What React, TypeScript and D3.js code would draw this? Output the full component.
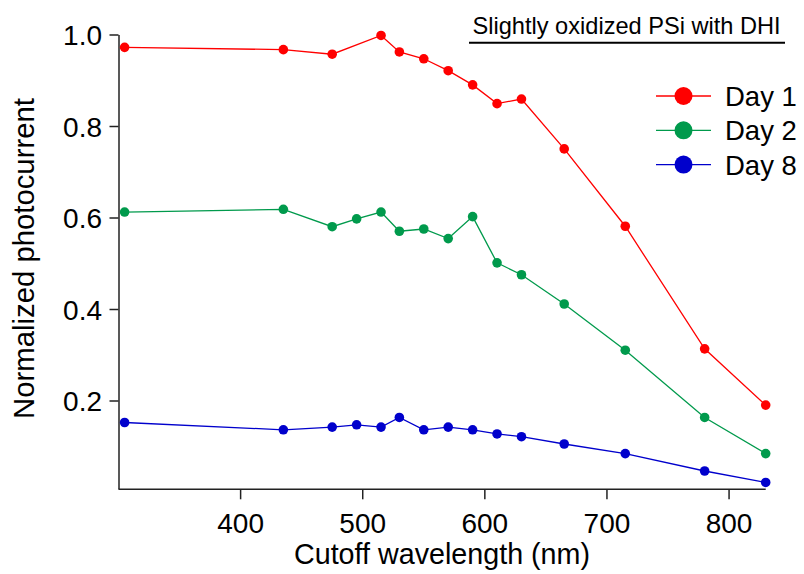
import React from "react";
import * as d3 from "d3";

const wavelengths1 = [305, 435, 475, 515, 530, 550, 570, 590, 610, 630, 665, 715, 780, 830];
const day1 = [0.973, 0.968, 0.958, 0.999, 0.963, 0.948, 0.922, 0.891, 0.85, 0.86, 0.751, 0.582, 0.314, 0.191];
const wavelengths = [305, 435, 475, 495, 515, 530, 550, 570, 590, 610, 630, 665, 715, 780, 830];
const day2 = [0.613, 0.619, 0.581, 0.598, 0.613, 0.571, 0.576, 0.555, 0.603, 0.502, 0.476, 0.412, 0.311, 0.164, 0.085];
const day8 = [0.153, 0.137, 0.143, 0.148, 0.143, 0.164, 0.137, 0.143, 0.137, 0.128, 0.122, 0.106, 0.085, 0.047, 0.022];
const xTicks = [400, 500, 600, 700, 800];
const yTicks = [0.2, 0.4, 0.6, 0.8, 1.0];
const seriesNames = ["Day 1", "Day 2", "Day 8"];
const seriesColors = ["#ff0000", "#009a4c", "#0000cc"];

const W = 804;
const H = 574;
const FONT = "'Liberation Sans', Arial, sans-serif";

export default function App() {
  const x = d3.scaleLinear().domain([300, 830]).range([118.5, 765.7]);
  const y = d3.scaleLinear().domain([0.007, 1.0]).range([489.3, 35]);
  const line = d3
    .line<[number, number]>()
    .x((d) => x(d[0]))
    .y((d) => y(d[1]));

  const series = [
    { name: seriesNames[0], color: seriesColors[0], pts: wavelengths1.map((w, i) => [w, day1[i]] as [number, number]) },
    { name: seriesNames[1], color: seriesColors[1], pts: wavelengths.map((w, i) => [w, day2[i]] as [number, number]) },
    { name: seriesNames[2], color: seriesColors[2], pts: wavelengths.map((w, i) => [w, day8[i]] as [number, number]) },
  ];

  const x0 = x.range()[0];
  const x1 = x.range()[1];
  const y0 = y.range()[0];
  const y1 = y.range()[1];

  return (
    <svg
      width={W}
      height={H}
      style={{ position: "absolute", left: 0, top: 0, background: "#fff" }}
      fontFamily={FONT}
    >
      {/* axes */}
      <line x1={x0 + 0.5} x2={x0 + 0.5} y1={y1} y2={y0} stroke="#222" strokeWidth={1.5} />
      <line x1={x0} x2={x1} y1={y0} y2={y0} stroke="#222" strokeWidth={1.5} />
      {yTicks.map((t) => (
        <g key={"y" + t}>
          <line x1={x0 - 9} x2={x0} y1={y(t)} y2={y(t)} stroke="#222" strokeWidth={1.5} />
          <text x={102} y={y(t)} dy="0.36em" textAnchor="end" fontSize={28} fill="#000">
            {t.toFixed(1)}
          </text>
        </g>
      ))}
      {xTicks.map((t) => (
        <g key={"x" + t}>
          <line x1={x(t)} x2={x(t)} y1={y0} y2={y0 + 10} stroke="#222" strokeWidth={1.5} />
          <text x={x(t)} y={532.5} textAnchor="middle" fontSize={28} fill="#000">
            {t}
          </text>
        </g>
      ))}
      <text x={442} y={563.5} textAnchor="middle" fontSize={28.7} fill="#000">
        Cutoff wavelength (nm)
      </text>
      <text
        transform={`translate(34.3, 258.5) rotate(-90)`}
        textAnchor="middle"
        fontSize={29.3}
        fill="#000"
      >
        Normalized photocurrent
      </text>

      {/* series */}
      {series.map((s) => (
        <g key={s.name}>
          <path d={line(s.pts) || ""} fill="none" stroke={s.color} strokeWidth={1.3} />
          {s.pts.map((p, i) => (
            <circle key={i} cx={x(p[0])} cy={y(p[1])} r={4.8} fill={s.color} />
          ))}
        </g>
      ))}

      {/* title */}
      <text x={472.5} y={34.3} fontSize={23.6} fill="#000">
        Slightly oxidized PSi with DHI
      </text>
      <line x1={469} x2={785} y1={42.7} y2={42.7} stroke="#000" strokeWidth={2} />

      {/* legend */}
      {series.map((s, i) => {
        const ly = 96 + i * 34.3;
        return (
          <g key={"leg" + s.name}>
            <line x1={656} x2={711} y1={ly} y2={ly} stroke={s.color} strokeWidth={1.3} />
            <circle cx={683.5} cy={ly} r={9} fill={s.color} />
            <text x={725} y={ly} dy="0.36em" fontSize={27.5} fill="#000">
              {s.name}
            </text>
          </g>
        );
      })}
    </svg>
  );
}
